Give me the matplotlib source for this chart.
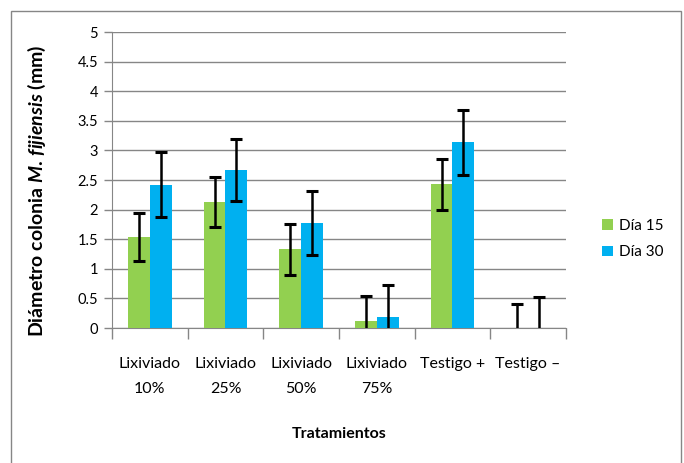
import numpy as np
import matplotlib.pyplot as plt
from matplotlib.patches import Rectangle

categorias = ['Lixiviado\n10%', 'Lixiviado\n25%', 'Lixiviado\n50%', 'Lixiviado\n75%', 'Testigo +', 'Testigo \u2013']
dia15 = [1.54, 2.13, 1.33, 0.12, 2.43, 0.0]
dia30 = [2.42, 2.67, 1.77, 0.19, 3.14, 0.0]
err15 = [0.41, 0.42, 0.43, 0.42, 0.43, 0.41]
err30 = [0.55, 0.53, 0.54, 0.54, 0.55, 0.53]

plt.rcParams['font.family'] = ['Lato', 'DejaVu Sans']
plt.rcParams['mathtext.fontset'] = 'custom'
plt.rcParams['mathtext.it'] = 'Lato:italic:bold'
plt.rcParams['mathtext.rm'] = 'Lato:bold'

W, H = 684, 463
fig = plt.figure(figsize=(W / 100, H / 100), dpi=100)
ax = fig.add_axes([112 / W, 1 - 328 / H, (566 - 112) / W, (328 - 32) / H])

x = np.arange(len(categorias))
w = 0.29
ekw = dict(elinewidth=1.8, capsize=4.5, capthick=2.2, ecolor='black')
ax.bar(x - w / 2, dia15, w, color='#92D050', label='Día 15', yerr=err15, error_kw=ekw, zorder=3)
ax.bar(x + w / 2, dia30, w, color='#00B0F0', label='Día 30', yerr=err30, error_kw=ekw, zorder=3)

ax.set_xlim(-0.5, len(categorias) - 0.5)
ax.set_ylim(0, 5)
ax.set_yticks(np.arange(0, 5.01, 0.5))
ax.set_yticklabels(['0', '0.5', '1', '1.5', '2', '2.5', '3', '3.5', '4', '4.5', '5'], fontsize=10.5)
ax.set_xticks(x)
ax.set_xticklabels(categorias, fontsize=11.5, linespacing=2.0)
ax.set_xticks(np.arange(-0.5, len(categorias), 1), minor=True)
ax.tick_params(axis='x', which='major', length=0, pad=21)
ax.tick_params(axis='x', which='minor', length=8, color='#868686', width=1)
ax.tick_params(axis='y', length=6, color='#868686', width=1, pad=4)

ax.grid(axis='y', color='#868686', linewidth=1, zorder=0)
for s in ['top', 'right']:
    ax.spines[s].set_visible(False)
for s in ['left', 'bottom']:
    ax.spines[s].set_color('#868686')

ax.set_ylabel('Diámetro colonia $\\mathit{M.\\,fijiensis}$ (mm)', fontsize=14, fontweight='bold')
ax.yaxis.set_label_coords(-0.141, 0.463)
ax.set_xlabel('Tratamientos', fontsize=11.5, fontweight='bold', labelpad=22)

ax.legend(loc='center left', bbox_to_anchor=(1.05, 0.3), frameon=False, fontsize=11,
          handlelength=0.7, handleheight=0.7, handletextpad=0.4, labelspacing=0.8)

fig.patches.append(Rectangle((11 / W, -0.05), (681 - 11) / W, 1.05 - 11 / H, transform=fig.transFigure,
                             fill=False, edgecolor='#868686', linewidth=1))

fig.savefig('out.png', dpi=100)
